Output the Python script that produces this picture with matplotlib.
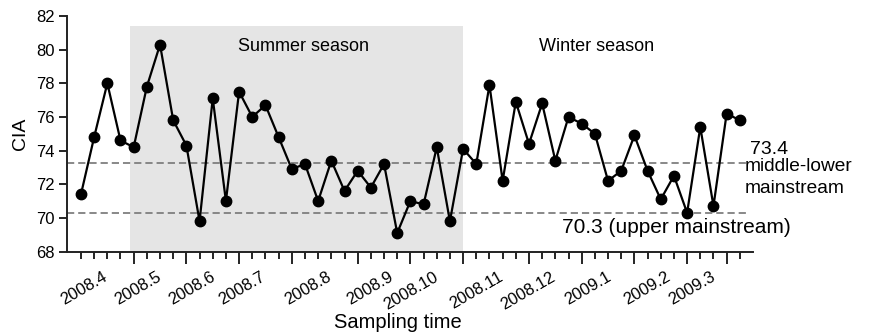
import matplotlib
matplotlib.use("Agg")
import matplotlib.pyplot as plt
import matplotlib.transforms as mtransforms
import numpy as np

plt.rcParams['font.family'] = ['Liberation Sans', 'DejaVu Sans']

# ---- data ----
cia = [71.4, 74.8, 78.0, 74.6, 74.2, 77.8, 80.3, 75.8, 74.3, 69.8,
       77.1, 71.0, 77.5, 76.0, 76.7, 74.8, 72.9, 73.2, 71.0, 73.4,
       71.6, 72.8, 71.8, 73.2, 69.1, 71.0, 70.8, 74.2, 69.8, 74.1,
       73.2, 77.9, 72.2, 76.9, 74.4, 76.8, 73.4, 76.0, 75.6, 75.0,
       72.2, 72.8, 74.9, 72.8, 71.1, 72.5, 70.3, 75.4, 70.7, 76.2,
       75.8]
month_labels = ['2008.4', '2008.5', '2008.6', '2008.7', '2008.8', '2008.9',
                '2008.10', '2008.11', '2008.12', '2009.1', '2009.2', '2009.3']
major_idx = [4, 8, 12, 16, 21, 25, 29, 34, 38, 42, 46, 49]
label_x = [2.2, 6.3, 10.4, 14.2, 19.2, 23.9, 27.3, 32.2, 36.2, 40.4, 44.9, 48.3]
line_upper = 73.25   # 73.4 middle-lower mainstream
line_lower = 70.3    # upper mainstream
summer_start, summer_end = 3.72, 29.0

x = np.arange(len(cia))

fig = plt.figure(figsize=(8.72, 3.34), dpi=100)
ax = fig.add_axes([67/872, 1-251.5/334, (753-67)/872, (251.5-16)/334])

ax.fill_between([summer_start, summer_end], 68, 81.42, color='#e5e5e5', lw=0, zorder=0)

ax.plot([-1.06, 50.55], [line_upper, line_upper], ls=(0, (4, 2.2)), color='#7f7f7f', lw=1.3, zorder=1)
ax.plot([-1.06, 50.55], [line_lower, line_lower], ls=(0, (4, 2.2)), color='#7f7f7f', lw=1.3, zorder=1)

ax.plot(x, cia, color='black', lw=1.6, marker='o', ms=7.5, mfc='black', mec='black', zorder=3)

ax.set_xlim(-1.06, 51.0)
ax.set_ylim(68, 82)
ax.set_yticks(np.arange(68, 83, 2))
ax.set_xticks(major_idx)
ax.set_xticklabels([])
ax.set_xticks(x, minor=True)

for s in ['top', 'right']:
    ax.spines[s].set_visible(False)
for s in ['left', 'bottom']:
    ax.spines[s].set_linewidth(1.4)
    ax.spines[s].set_color('#222222')

ax.tick_params(axis='y', direction='out', length=6, width=1.2, labelsize=12, pad=3)
ax.tick_params(axis='x', which='major', direction='out', length=8.3, width=1.2)
ax.tick_params(axis='x', which='minor', direction='out', length=4.7, width=1.2)

trans = mtransforms.blended_transform_factory(ax.transData, ax.transAxes)
for lx, lab in zip(label_x, month_labels):
    ax.text(lx, -0.075, lab, transform=trans, rotation=30, ha='right', va='top',
            fontsize=12, rotation_mode='default', clip_on=False)

ax.set_ylabel('CIA', fontsize=14, labelpad=5)
ax.text(0.4825, -0.26, 'Sampling time', transform=ax.transAxes, ha='center', va='top', fontsize=14.5)

ax.text(16.85, 80.2, 'Summer season', ha='center', va='center', fontsize=13)
ax.text(39.1, 80.2, 'Winter season', ha='center', va='center', fontsize=13)

ax.text(50.8, 74.05, '73.4', ha='left', va='center', fontsize=14, clip_on=False)
ax.text(50.35, 73.05, 'middle-lower', ha='left', va='center', fontsize=13.8, clip_on=False)
ax.text(50.35, 71.75, 'mainstream', ha='left', va='center', fontsize=13.8, clip_on=False)
ax.text(36.5, 69.45, '70.3 (upper mainstream)', ha='left', va='center', fontsize=15)

fig.savefig('out.png', dpi=100)
